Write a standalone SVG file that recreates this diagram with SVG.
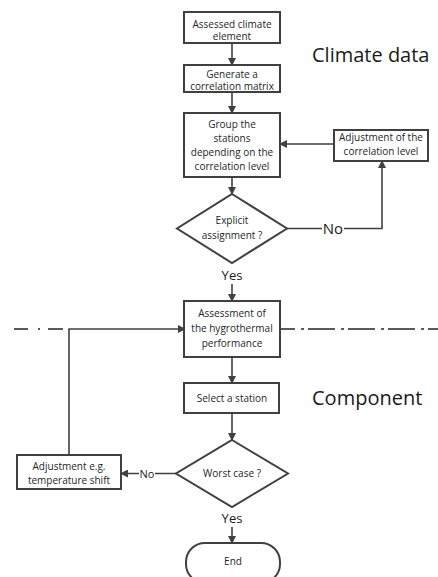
<svg xmlns="http://www.w3.org/2000/svg" width="438" height="577" viewBox="0 0 438 577">
<defs>
<marker id="ah" markerWidth="8" markerHeight="8" refX="7" refY="4" orient="auto" markerUnits="userSpaceOnUse">
<path d="M0,0 L8,4 L0,8 z" fill="#404040"/>
</marker>
<style>
.box{fill:#fff;stroke:#404040;stroke-width:2}
.t{font-family:"Open Sans","Liberation Sans",sans-serif;font-size:10px;fill:#262626;text-anchor:middle}
.lbl{font-family:"Open Sans","Liberation Sans",sans-serif;fill:#1a1a1a;text-anchor:middle}
.big{font-family:"Open Sans","Liberation Sans",sans-serif;font-size:20px;fill:#1a1a1a}
.c{fill:none;stroke:#404040;stroke-width:1.6}
.dd{fill:none;stroke:#5a5a5a;stroke-width:2}
</style>
</defs>
<rect width="438" height="577" fill="#fff"/>
<g id="separator">
<path class="dd" d="M14,329 H64" stroke-dasharray="14 10 2 8 15 100"/>
<path class="dd" d="M279,329 H438" stroke-dasharray="27 6 3 4" stroke-dashoffset="11"/>
</g>
<g id="connectors">
<path class="c" d="M232,43 V65" marker-end="url(#ah)"/>
<path class="c" d="M232,92 V113" marker-end="url(#ah)"/>
<path class="c" d="M232,177 V194" marker-end="url(#ah)"/>
<path class="c" d="M334,144 H280" marker-end="url(#ah)"/>
<path class="c" d="M287,228.5 H382 V161" marker-end="url(#ah)"/>
<rect x="322" y="219" width="22" height="18" fill="#fff"/>
<text class="lbl" x="333" y="234" font-size="15">No</text>
<text class="lbl" x="232" y="280" font-size="13">Yes</text>
<path class="c" d="M232,284 V301" marker-end="url(#ah)"/>
<path class="c" d="M232,357 V383" marker-end="url(#ah)"/>
<path class="c" d="M232,413 V440" marker-end="url(#ah)"/>
<path class="c" d="M176,473.5 H121" marker-end="url(#ah)"/>
<rect x="139" y="466" width="16" height="14" fill="#fff"/>
<text class="lbl" x="147" y="477.5" font-size="11">No</text>
<path class="c" d="M69,455 V329 H185" marker-end="url(#ah)"/>
<text class="lbl" x="232" y="523" font-size="13">Yes</text>
<path class="c" d="M232,527 V543" marker-end="url(#ah)"/>
</g>
<g id="n1">
<rect class="box" x="184" y="12" width="96" height="31"/>
<text class="t" x="232" y="27.5">Assessed climate</text>
<text class="t" x="232" y="40">element</text>
</g>
<g id="n2">
<rect class="box" x="184" y="65" width="96" height="27"/>
<text class="t" x="232" y="77.5">Generate a</text>
<text class="t" x="232" y="90">correlation matrix</text>
</g>
<g id="n3">
<rect class="box" x="184" y="113" width="96" height="64"/>
<text class="t" x="232" y="128">Group the</text>
<text class="t" x="232" y="141.5">stations</text>
<text class="t" x="232" y="156">depending on the</text>
<text class="t" x="232" y="169.5">correlation level</text>
</g>
<g id="n4">
<rect class="box" x="334" y="130" width="94" height="31"/>
<text class="t" x="381" y="140.5">Adjustment of the</text>
<text class="t" x="381" y="155">correlation level</text>
</g>
<g id="d1">
<polygon class="box" points="232,194 287,228.5 232,263 177,228.5"/>
<text class="t" x="232" y="224">Explicit</text>
<text class="t" x="232" y="238.5">assignment ?</text>
</g>
<g id="n5">
<rect class="box" x="184" y="301" width="96" height="56"/>
<text class="t" x="232" y="316.5">Assessment of</text>
<text class="t" x="232" y="332">the hygrothermal</text>
<text class="t" x="232" y="346.5">performance</text>
</g>
<g id="n6">
<rect class="box" x="184" y="383" width="95" height="30"/>
<text class="t" x="232" y="401.5">Select a station</text>
</g>
<g id="d2">
<polygon class="box" points="232,440 288,473.5 232,507 176,473.5"/>
<text class="t" x="232" y="477">Worst case ?</text>
</g>
<g id="n7">
<rect class="box" x="17" y="455" width="104" height="34"/>
<text class="t" x="69" y="470">Adjustment e.g.</text>
<text class="t" x="69" y="483.5">temperature shift</text>
</g>
<g id="end">
<rect class="box" x="186" y="543" width="94" height="40" rx="19" ry="19"/>
<text class="t" x="233" y="565">End</text>
</g>
<g id="labels">
<text class="big" x="312" y="62">Climate data</text>
<text class="big" x="312" y="405">Component</text>
</g>
</svg>
